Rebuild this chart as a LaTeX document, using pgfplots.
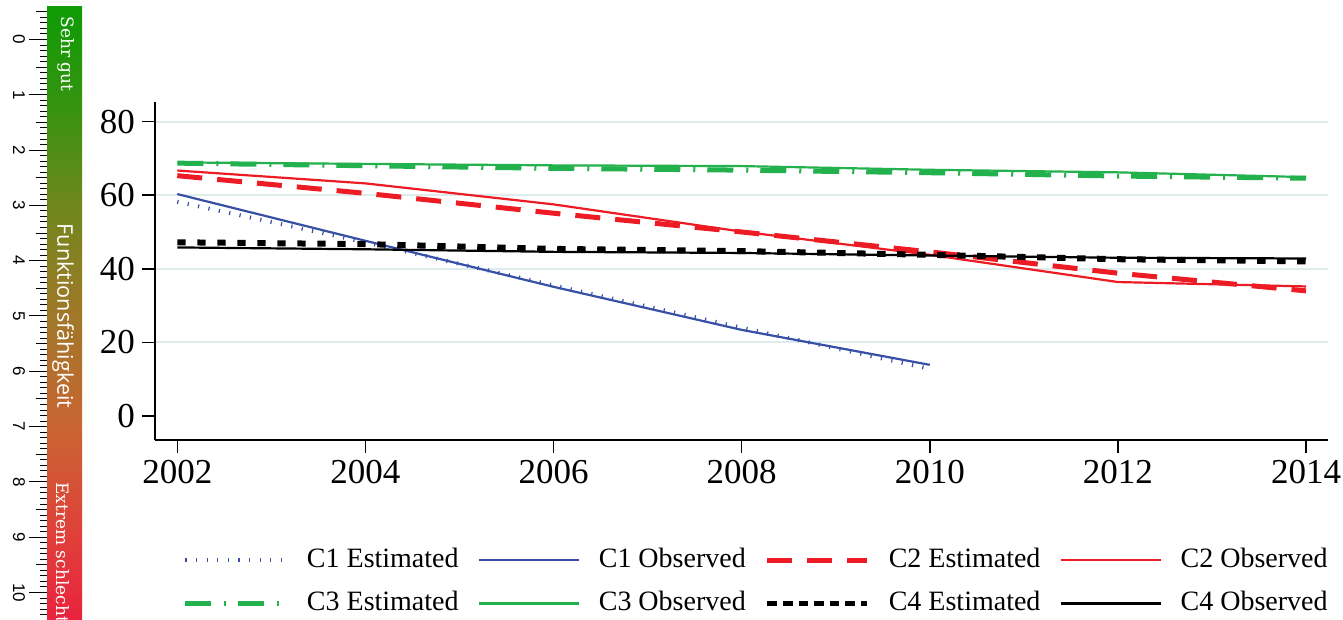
\documentclass[border=0pt]{standalone}
\usepackage{pgfplots}
\pgfplotsset{compat=1.18}
\usepackage{fontspec}
\setmainfont{Liberation Serif}
\newfontfamily\rulerfont{Liberation Sans}
\newfontfamily\slabfont{DejaVu Serif}
\newfontfamily\funkfont{Open Sans}

\definecolor{cblue}{RGB}{55,80,165}
\definecolor{cred}{RGB}{237,28,36}
\definecolor{cgreen}{RGB}{34,177,76}
\definecolor{gridc}{RGB}{222,236,238}
\definecolor{cR0}{RGB}{232,35,62}
\definecolor{cR1}{RGB}{225,62,58}
\definecolor{cR2}{RGB}{202,100,50}
\definecolor{cR3}{RGB}{160,120,40}
\definecolor{cR4}{RGB}{110,135,30}
\definecolor{cR5}{RGB}{50,148,15}
\definecolor{cR6}{RGB}{15,155,5}

\pgfdeclareverticalshading{funk}{100bp}{color(0bp)=(cR0); color(25bp)=(cR0); color(31.5bp)=(cR1); color(40.5bp)=(cR2); color(50bp)=(cR3); color(59bp)=(cR4); color(67.5bp)=(cR5); color(75bp)=(cR6); color(100bp)=(cR6)}

\pgfplotstableread{
x y
2002 58.2
2004 47.2
2006 35.5
2008 24.0
2010 12.8
}\cOneE
\pgfplotstableread{
x y
2002 60.3
2004 47.6
2006 35.1
2008 23.4
2010 13.9
}\cOneO
\pgfplotstableread{
x y
2002 65.3
2004 60.5
2006 55.1
2008 50.0
2010 44.6
2012 38.8
2014 34.0
}\cTwoE
\pgfplotstableread{
x y
2002 66.7
2004 63.2
2006 57.5
2008 50.1
2010 43.8
2012 36.4
2014 35.2
}\cTwoO
\pgfplotstableread{
x y
2002 68.7
2004 68.0
2006 67.3
2008 66.8
2010 66.1
2012 65.2
2014 64.6
}\cThreeE
\pgfplotstableread{
x y
2002 68.9
2004 68.5
2006 68.1
2008 67.9
2010 66.9
2012 66.2
2014 64.9
}\cThreeO
\pgfplotstableread{
x y
2002 47.2
2004 46.7
2006 45.4
2008 44.8
2010 43.8
2012 42.6
2014 42.0
}\cFourE
\pgfplotstableread{
x y
2002 45.8
2004 45.3
2006 44.6
2008 44.3
2010 43.6
2012 43.0
2014 42.8
}\cFourO

\tikzset{
  c1e/.style={cblue, line width=2pt, dash pattern=on 0.6pt off 4.7pt},
  c1o/.style={cblue, line width=1.1pt},
  c2e/.style={cred, line width=2.5pt, dash pattern=on 12.5pt off 7.5pt},
  c2o/.style={cred, line width=1.1pt},
  c3e/.style={cgreen, line width=2.5pt, dash pattern=on 13pt off 6.5pt on 1pt off 6pt},
  c3o/.style={cgreen, line width=1.1pt},
  c4e/.style={black, line width=3pt, dash pattern=on 4.2pt off 5.8pt},
  c4eleg/.style={black, line width=2.5pt, dash pattern=on 4.8pt off 3pt},
  c4o/.style={black, line width=1.1pt},
}

\begin{document}
\begin{tikzpicture}
\useasboundingbox (0,0) rectangle (671.5pt,310pt);
\begin{scope}[x=0.5pt,y=0.5pt]
  \shade[shading=funk] (47,0) rectangle (82,613);
  \foreach \i in {-5,...,104} {
    \pgfmathsetmacro\yy{620-(39.5+5.53*\i)}
    \pgfmathtruncatemacro\m{mod(abs(\i),10)}
    \pgfmathtruncatemacro\h{mod(abs(\i),5)}
    \ifnum\m=0 \def\len{18}\else\ifnum\h=0 \def\len{11}\else\def\len{7}\fi\fi
    \draw[line width=0.5pt] ({47-\len},\yy) -- (47,\yy);
  }
  \foreach \k in {0,...,10} {
    \node[rotate=-90, inner sep=0pt, font=\rulerfont\fontsize{8.5}{9}\selectfont] at (19, {620-(39.5+55.3*\k)}) {\k};
  }
  \node[rotate=-90, anchor=west, inner sep=0pt, text=white, font=\slabfont\fontsize{8.5}{10}\selectfont] at (66,604) {Sehr gut};
  \node[rotate=-90, anchor=center, inner sep=0pt, text=white, font=\funkfont\fontsize{10.8}{12}\selectfont] at (63,304) {Funktionsfähigkeit};
  \node[rotate=-90, anchor=west, inner sep=0pt, text=white, font=\slabfont\fontsize{8.5}{10}\selectfont] at (63,138) {Extrem schlecht};
\end{scope}

\begin{axis}[
  at={(77.5pt,90pt)}, anchor=south west,
  scale only axis, width=586.5pt, height=169.15pt,
  xmin=2001.763, xmax=2014.234, ymin=-6.52, ymax=85.4,
  axis x line*=bottom, axis y line*=left,
  axis line style={line width=1pt, -},
  xtick={2002,2004,...,2014},
  ytick={20,40,60,80},
  extra y ticks={0}, extra y tick style={grid=none},
  ymajorgrids, major grid style={line width=1pt, gridc},
  tick align=outside, major tick length=6.5pt,
  tick style={line width=0.75pt, black},
  xticklabel style={/pgf/number format/1000 sep={}},
  tick label style={font=\fontsize{17.5}{19}\selectfont},
  /pgf/number format/assume math mode=true,
  clip=false,
  legend columns=4,
  legend cell align=left,
  legend image code/.code={\draw[#1] (0pt,0pt) -- (50pt,0pt);},
  legend style={draw=none, fill=none, inner sep=0pt, outer sep=0pt,
    at={(0.02387,-0.3163)}, anchor=north west,
    column sep=9.5pt, row sep=8.75pt,
    nodes={inner sep=0pt, text height=10pt, text depth=3pt, font=\fontsize{14}{16}\selectfont}},
]
\addlegendimage{c1e}
\addlegendimage{c1o}
\addlegendimage{c2e}
\addlegendimage{c2o}
\addlegendimage{c3e}
\addlegendimage{c3o}
\addlegendimage{c4eleg}
\addlegendimage{c4o}
\addplot[c1e, forget plot] table[x=x,y=y] {\cOneE};
\addplot[c1o, forget plot] table[x=x,y=y] {\cOneO};
\addplot[c2e, forget plot] table[x=x,y=y] {\cTwoE};
\addplot[c2o, forget plot] table[x=x,y=y] {\cTwoO};
\addplot[c3e, forget plot] table[x=x,y=y] {\cThreeE};
\addplot[c3o, forget plot] table[x=x,y=y] {\cThreeO};
\addplot[c4e, forget plot] table[x=x,y=y] {\cFourE};
\addplot[c4o, forget plot] table[x=x,y=y] {\cFourO};
\legend{C1 Estimated, C1 Observed, C2 Estimated, C2 Observed, C3 Estimated, C3 Observed, C4 Estimated, C4 Observed}
\end{axis}
\end{tikzpicture}
\end{document}
